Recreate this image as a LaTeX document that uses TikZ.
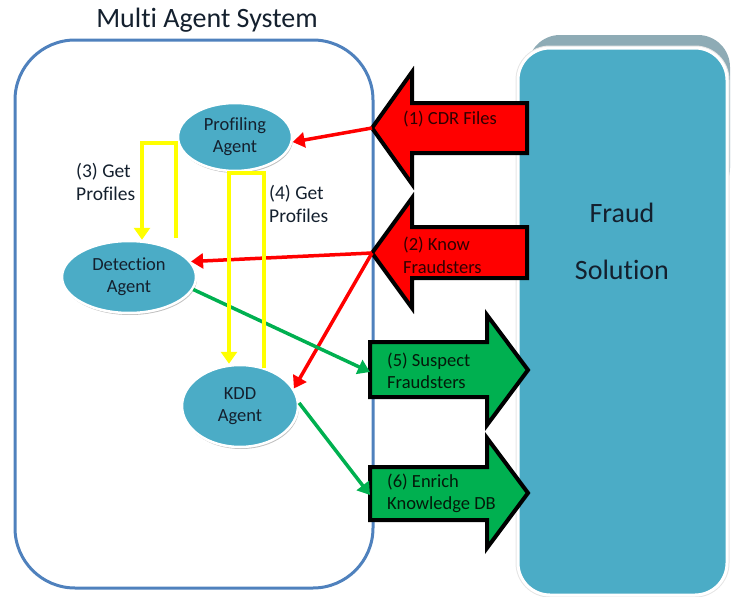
\documentclass[tikz,border=0pt]{standalone}
\usepackage{fontspec}
\setmainfont{Carlito}[Ligatures=CommonOff]
\usetikzlibrary{shapes.geometric,arrows.meta,shadows}
\definecolor{masblue}{HTML}{4F81BD}
\definecolor{agentfill}{HTML}{4BACC6}
\definecolor{backgray}{HTML}{8EABB5}
\definecolor{flowred}{HTML}{FF0000}
\definecolor{flowgreen}{HTML}{00B050}
\definecolor{flowyellow}{HTML}{FFFF00}
\definecolor{textnavy}{HTML}{14202E}
\definecolor{redtext}{HTML}{300000}
\definecolor{greentext}{HTML}{041A0A}

\tikzset{
  agent/.style={ellipse, fill=agentfill, draw=white, line width=2.5pt, inner sep=0pt,
    align=center, text=textnavy, font=\fontsize{18.5}{22}\selectfont,
    drop shadow={shadow xshift=1pt, shadow yshift=-2pt, opacity=0.25, fill=black}},
  redlink/.style={draw=flowred, line width=3.5pt, -{Triangle[width=15pt,length=12pt]}},
  greenlink/.style={draw=flowgreen, line width=3.5pt, -{Triangle[width=15pt,length=12pt]}},
  yellowlink/.style={draw=flowyellow, line width=4.5pt, -{Triangle[width=16pt,length=12pt]}},
  blockred/.style={fill=flowred, draw=black, line width=4pt, line join=miter},
  blockgreen/.style={fill=flowgreen, draw=black, line width=4pt, line join=miter},
  redlabel/.style={inner sep=0pt, anchor=west, align=left, text=redtext, font=\fontsize{18.5}{23}\selectfont},
  greenlabel/.style={inner sep=0pt, anchor=west, align=left, text=greentext, font=\fontsize{18.5}{22}\selectfont},
  steplabel/.style={inner sep=0pt, anchor=west, align=left, text=textnavy, font=\fontsize{19.5}{23}\selectfont},
}

\begin{document}
\begin{tikzpicture}[x=1pt,y=-1pt]
\useasboundingbox (0,0) rectangle (732,597);

% Fraud Solution block with its raised back face
\fill[backgray, rounded corners=32pt] (528,35) rectangle (730,200);
\draw[draw=black!10, line width=5pt, rounded corners=32pt] (518,48) rectangle (727,595);
\draw[fill=agentfill, draw=white, line width=3pt, rounded corners=32pt] (518,48) rectangle (727,595);
\node[align=center, text=textnavy, font=\fontsize{28}{57}\selectfont] (fraud) at (622,241) {Fraud\\Solution};

% Multi agent system container
\node[text=textnavy, font=\fontsize{28}{32}\selectfont] (title) at (207,20) {Multi Agent System};
\draw[masblue, line width=3pt, rounded corners=60pt] (15,40) rectangle (373,588);

% Block arrows between the two systems
\draw[blockred] (527,103) -- (412,103) -- (412,72) -- (372,128) -- (412,184) -- (412,153) -- (527,153) -- cycle;
\draw[blockred] (527,227) -- (412,227) -- (412,198) -- (372,253) -- (412,308) -- (412,278) -- (527,278) -- cycle;
\draw[blockgreen] (370,342) -- (487,342) -- (487,315) -- (528,370) -- (487,425) -- (487,397) -- (370,397) -- cycle;
\draw[blockgreen] (370,467) -- (487,467) -- (487,438) -- (528,493) -- (487,548) -- (487,520) -- (370,520) -- cycle;

\node[redlabel] (cdr) at (403,119) {(1) CDR Files};
\node[redlabel] (known) at (403,255) {(2) Know\\Fraudsters};
\node[greenlabel] (suspect) at (387,371) {(5) Suspect\\Fraudsters};
\node[greenlabel] (enrich) at (387,493) {(6) Enrich\\Knowledge DB};

% Agents
\node[agent, minimum width=114pt, minimum height=68pt] (prof) at (235,137) {Profiling\\Agent};
\node[agent, minimum width=134pt, minimum height=72pt] (det) at (129,277) {Detection\\Agent};
\node[agent, minimum width=116pt, minimum height=82pt] (kdd) at (240,406) {KDD\\Agent};

% Arrow tips of the block arrows
\coordinate (cdrtip) at (372,128);
\coordinate (knowntip) at (372,253);
\coordinate (suspectin) at (370,372);
\coordinate (enrichin) at (370,495);

% Data flows
\draw[redlink] (cdrtip) -- (prof.-5);
\draw[redlink] (knowntip) -- (det.14);
\draw[redlink] (knowntip) -- (kdd.18);
\draw[greenlink] (det.-11) -- (suspectin);
\draw[greenlink] (kdd.3) -- (enrichin);

% Profile requests
\coordinate (p3start) at (176,238);
\coordinate (p3turn) at (142,143);
\draw[yellowlink] (p3start) |- (p3turn) -- (p3turn |- det.north);
\coordinate (p4start) at (264,368);
\coordinate (p4turn) at (229,173);
\draw[yellowlink] (p4start) |- (p4turn) -- (p4turn |- kdd.north);

\node[steplabel] (get3) at (76,182) {(3) Get\\Profiles};
\node[steplabel] (get4) at (269,204) {(4) Get\\Profiles};
\end{tikzpicture}
\end{document}
